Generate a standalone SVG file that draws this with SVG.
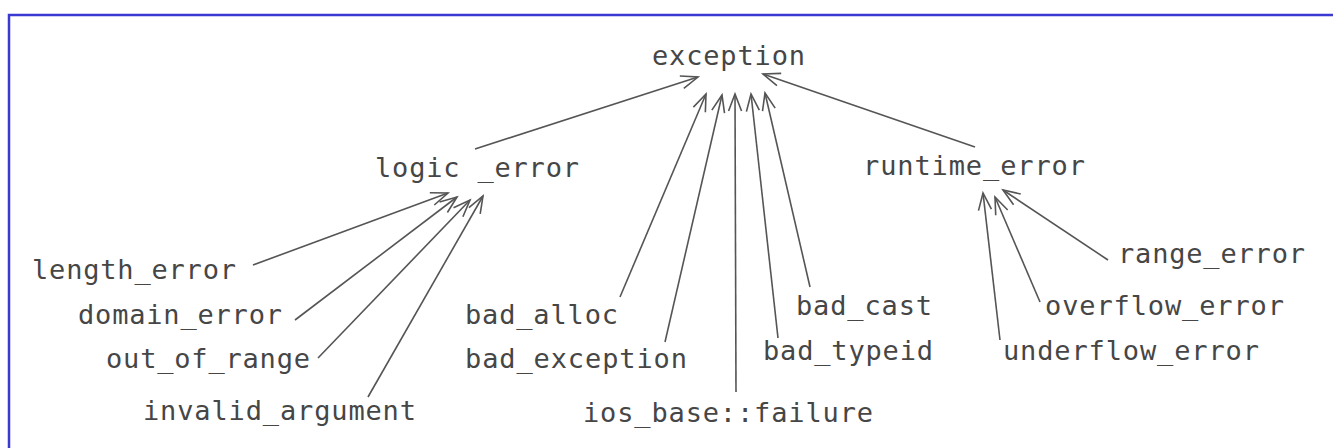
<svg xmlns="http://www.w3.org/2000/svg" width="1333" height="448" viewBox="0 0 1333 448">
<defs>
<style>
text{font-family:"DejaVu Sans Mono","Liberation Mono",monospace;font-size:27px;fill:#464646;}
.c line{stroke:#555;stroke-width:1.6;fill:none;marker-end:url(#arr);}
.frame{stroke:#3a3ad2;stroke-width:2.5;fill:none;}
</style>
<marker id="arr" markerUnits="userSpaceOnUse" markerWidth="40" markerHeight="40" refX="0" refY="0" viewBox="-20 -20 40 40" orient="auto" overflow="visible">
<path d="M-17,-6.5 L0,0 L-17,6.5" fill="none" stroke="#555" stroke-width="1.6"/>
</marker>
</defs>
<rect width="1333" height="448" fill="#fff"/>
<path class="frame" d="M9,448 V15 H1333"/>
<g class="c" id="connectors">
<line x1="475" y1="149" x2="698" y2="77"/>
<line x1="975" y1="147" x2="763" y2="74"/>
<line x1="620" y1="297" x2="706" y2="94"/>
<line x1="665" y1="342" x2="722" y2="95"/>
<line x1="736" y1="392" x2="735" y2="94"/>
<line x1="778" y1="338" x2="751" y2="94"/>
<line x1="810" y1="287" x2="765" y2="93"/>
<line x1="253" y1="265" x2="448" y2="193"/>
<line x1="295" y1="320" x2="457" y2="197"/>
<line x1="318" y1="358" x2="470" y2="200"/>
<line x1="368" y1="397" x2="483" y2="196"/>
<line x1="1000" y1="340" x2="983" y2="193"/>
<line x1="1040" y1="302" x2="995" y2="197"/>
<line x1="1108" y1="260" x2="1003" y2="190"/>
</g>
<g id="exception"><text x="652" y="65" textLength="153" lengthAdjust="spacing">exception</text></g>
<g id="logic_error"><text x="375" y="177" textLength="204" lengthAdjust="spacing">logic _error</text></g>
<g id="runtime_error"><text x="863" y="175" textLength="222" lengthAdjust="spacing">runtime_error</text></g>
<g id="length_error"><text x="32" y="279" textLength="204" lengthAdjust="spacing">length_error</text></g>
<g id="domain_error"><text x="78" y="324" textLength="204" lengthAdjust="spacing">domain_error</text></g>
<g id="out_of_range"><text x="106" y="368" textLength="204" lengthAdjust="spacing">out_of_range</text></g>
<g id="invalid_argument"><text x="143" y="420" textLength="273" lengthAdjust="spacing">invalid_argument</text></g>
<g id="bad_alloc"><text x="465" y="324" textLength="153" lengthAdjust="spacing">bad_alloc</text></g>
<g id="bad_exception"><text x="465" y="368" textLength="222" lengthAdjust="spacing">bad_exception</text></g>
<g id="ios_base_failure"><text x="583" y="422" textLength="290" lengthAdjust="spacing">ios_base::failure</text></g>
<g id="bad_cast"><text x="796" y="315" textLength="136" lengthAdjust="spacing">bad_cast</text></g>
<g id="bad_typeid"><text x="763" y="360" textLength="170" lengthAdjust="spacing">bad_typeid</text></g>
<g id="range_error"><text x="1118" y="263" textLength="187" lengthAdjust="spacing">range_error</text></g>
<g id="overflow_error"><text x="1045" y="315" textLength="239" lengthAdjust="spacing">overflow_error</text></g>
<g id="underflow_error"><text x="1003" y="360" textLength="256" lengthAdjust="spacing">underflow_error</text></g>
</svg>
